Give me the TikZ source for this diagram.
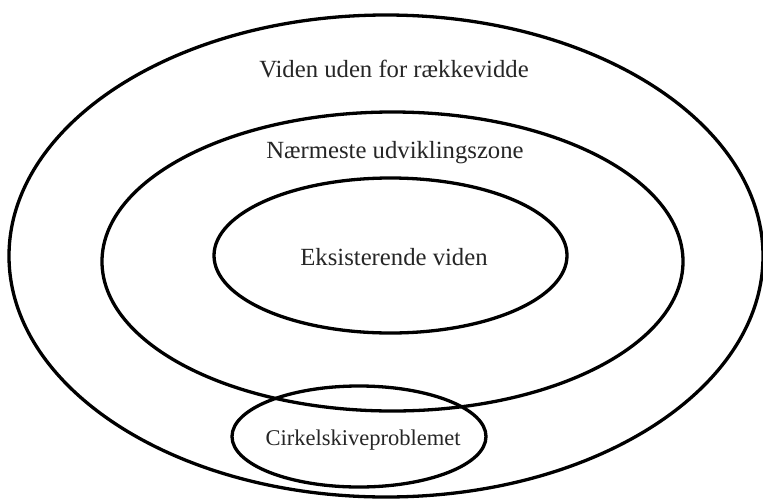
\documentclass[tikz,border=0pt]{standalone}
\usepackage{fontspec}
\setmainfont{Liberation Serif}
\begin{document}
\begin{tikzpicture}[x=1pt,y=-1pt,
  ring/.style={draw=black,line width=3.3pt},
  lbl/.style={font=\fontsize{24.7}{29}\selectfont,text=black!85,inner sep=0pt},
  slbl/.style={font=\fontsize{22.5}{26}\selectfont,text=black!85,inner sep=0pt}]
\useasboundingbox (0,0) rectangle (763,501);
\fill[white] (0,0) rectangle (763,501);
\draw[ring] (386,256) ellipse [x radius=377, y radius=241];
\draw[ring] (392.5,261.5) ellipse [x radius=290.5, y radius=149.5];
\draw[ring] (390.5,255.5) ellipse [x radius=176.5, y radius=77.5];
\draw[ring] (359,436.5) ellipse [x radius=127, y radius=50.5];
\node[lbl] (outer) at (394,69) {Viden uden for rækkevidde};
\node[lbl] (zone) at (395,153) {Nærmeste udviklingszone};
\node[lbl] (inner) at (394,257) {Eksisterende viden};
\node[slbl] (circ) at (363,440) {Cirkelskiveproblemet};
\end{tikzpicture}
\end{document}
